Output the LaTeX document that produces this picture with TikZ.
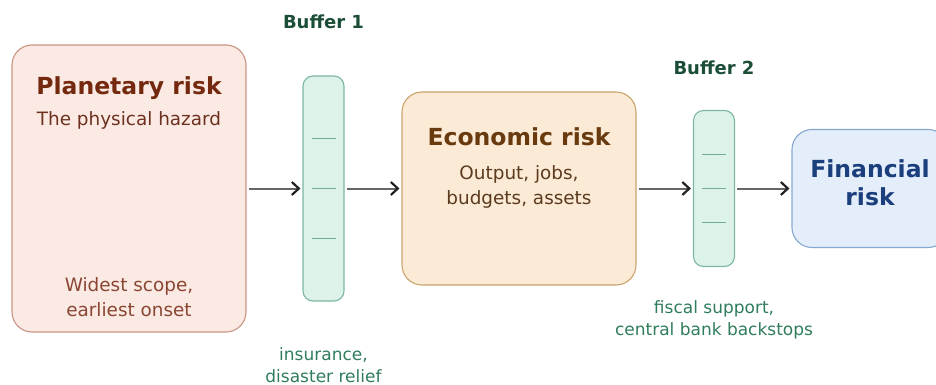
\documentclass[tikz,border=0pt]{standalone}
\usepackage{fontspec}
\setmainfont{DejaVu Sans}
\usetikzlibrary{positioning,arrows.meta}
\definecolor{PlanFill}{HTML}{FBEAE4}
\definecolor{PlanEdge}{HTML}{C99483}
\definecolor{PlanTitle}{HTML}{74290F}
\definecolor{PlanText}{HTML}{6E3120}
\definecolor{PlanNote}{HTML}{8A4632}
\definecolor{EconFill}{HTML}{FBEBD6}
\definecolor{EconEdge}{HTML}{CBA46C}
\definecolor{EconTitle}{HTML}{6A3A0F}
\definecolor{EconText}{HTML}{5C3A1E}
\definecolor{FinFill}{HTML}{E4EEFA}
\definecolor{FinEdge}{HTML}{85A8D0}
\definecolor{FinTitle}{HTML}{1B3F7D}
\definecolor{BufFill}{HTML}{DDF3EA}
\definecolor{BufEdge}{HTML}{7DB7A0}
\definecolor{BufLine}{HTML}{72AE96}
\definecolor{BufTitle}{HTML}{1C4D36}
\definecolor{BufNote}{HTML}{2F7D5A}
\definecolor{FlowGrey}{HTML}{666666}
\definecolor{FlowTip}{HTML}{222222}
\tikzset{
  riskBox/.style={
    rounded corners=20pt,
    line width=1.1pt,
    inner sep=0pt
  },
  bufBox/.style={
    rounded corners=10pt,
    line width=1.1pt,
    inner sep=0pt,
    fill=BufFill,
    draw=BufEdge,
    minimum width=41pt
  },
  bufTick/.style={
    line width=1.5pt,
    color=BufLine
  },
  riskTitle/.style={
    font=\fontsize{23.5pt}{28pt}\selectfont\bfseries,
    align=center,
    inner sep=0pt
  },
  riskText/.style={
    font=\fontsize{18.4pt}{25pt}\selectfont,
    align=center,
    inner sep=0pt
  },
  bufLabel/.style={
    font=\fontsize{18pt}{22pt}\selectfont\bfseries,
    text=BufTitle,
    inner sep=0pt
  },
  bufNote/.style={
    font=\fontsize{17pt}{22pt}\selectfont,
    text=BufNote,
    align=center,
    inner sep=0pt
  },
  flowArrow/.style={
    line width=2pt,
    color=FlowGrey,
    shorten <=2pt,
    shorten >=2pt,
    -{Straight Barb[length=7pt,width=13pt,line width=2.2pt,color=FlowTip]}
  }
}

\begin{document}
\begin{tikzpicture}[x=1pt,y=-1pt]
  \useasboundingbox (0,0) rectangle (936,385);

  % Risk boxes
  \node (planet) [riskBox, fill=PlanFill, draw=PlanEdge, minimum width=234pt, minimum height=287pt] at (129,188.5) {};
  \node (econ) [riskBox, fill=EconFill, draw=EconEdge, minimum width=234pt, minimum height=193pt] at (519,188.5) {};
  \node (fin) [riskBox, fill=FinFill, draw=FinEdge, minimum width=156pt, minimum height=118pt] at (870,188.5) {};

  % Buffers
  \node (buf1) [bufBox, minimum height=225pt] at (323.5,188.5) {};
  \node (buf2) [bufBox, minimum height=156pt] at (714,188.5) {};
  \foreach \dy in {-50,0,50}
    \draw [bufTick] ([xshift=-12pt,yshift=\dy pt]buf1.center) -- ([xshift=12pt,yshift=\dy pt]buf1.center);
  \foreach \dy in {-34,0,34}
    \draw [bufTick] ([xshift=-12pt,yshift=\dy pt]buf2.center) -- ([xshift=12pt,yshift=\dy pt]buf2.center);

  % Texts in the boxes
  \node (plan_title) [riskTitle, text=PlanTitle, below=32pt of planet.north] {Planetary risk};
  \node (plan_sub) [riskText, text=PlanText, below=12pt of plan_title] {The physical hazard};
  \node (plan_note) [riskText, text=PlanNote, above=16pt of planet.south] {Widest scope,\\earliest onset};

  \node (econ_title) [riskTitle, text=EconTitle, below=36pt of econ.north] {Economic risk};
  \node (econ_sub) [riskText, text=EconText, below=19pt of econ_title] {Output, jobs,\\budgets, assets};

  \node (fin_title) [riskTitle, text=FinTitle, yshift=6pt] at (fin.center) {Financial\\risk};

  % Buffer labels
  \node (buf1_label) [bufLabel, above=46pt of buf1] {Buffer 1};
  \node (buf2_label) [bufLabel, above=35pt of buf2] {Buffer 2};
  \node (buf1_note) [bufNote, below=46pt of buf1] {insurance,\\disaster relief};
  \node (buf2_note) [bufNote, below=33pt of buf2] {fiscal support,\\central bank backstops};

  % Flow
  \draw [flowArrow] (planet) -- (buf1);
  \draw [flowArrow] (buf1) -- (econ);
  \draw [flowArrow] (econ) -- (buf2);
  \draw [flowArrow] (buf2) -- (fin);
\end{tikzpicture}
\end{document}
